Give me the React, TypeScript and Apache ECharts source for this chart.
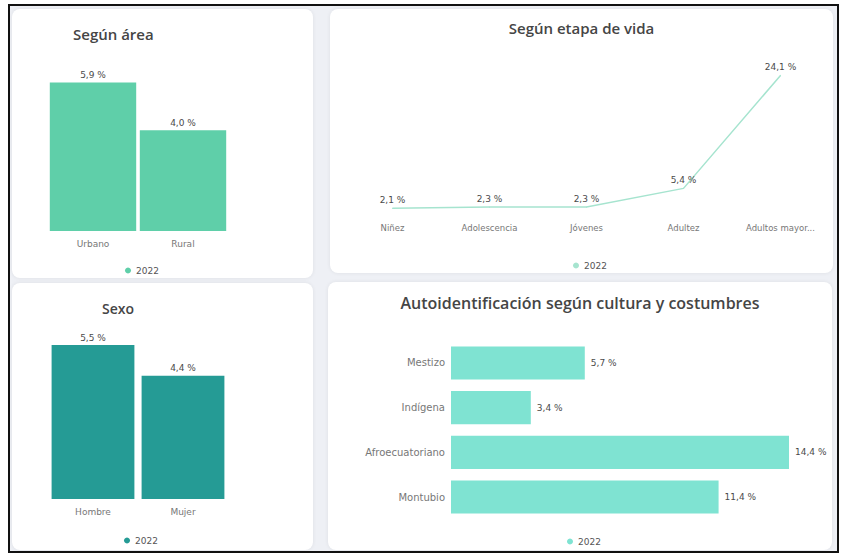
import React, { useEffect, useRef } from "react";
import * as echarts from "echarts";

const areaCats = ["Urbano", "Rural"];
const areaVals = [5.9, 4.0];

const sexoCats = ["Hombre", "Mujer"];
const sexoVals = [5.5, 4.4];

const etapaCats = ["Niñez", "Adolescencia", "Jóvenes", "Adultez", "Adultos mayores"];
const etapaVals = [2.1, 2.3, 2.3, 5.4, 24.1];

const culturaCats = ["Mestizo", "Indígena", "Afroecuatoriano", "Montubio"];
const culturaVals = [5.7, 3.4, 14.4, 11.4];

const seriesName = "2022";

const TFONT = "'Open Sans', 'Noto Sans', sans-serif";
const FONT = "'DejaVu Sans', 'Noto Sans', sans-serif";
const fmt = (v: number) => v.toFixed(1).replace(".", ",") + " %";

const legendCfg = (left: number, top: number, color: string) => ({
  left,
  top,
  icon: "circle",
  itemWidth: 6,
  itemHeight: 6,
  itemGap: 4,
  textStyle: { fontSize: 9, color: "#555", fontFamily: FONT },
  data: [{ name: seriesName, itemStyle: { color } }],
});

const titleCfg = (text: string, left: number | string, top: number, size: number, align: string = "left") => ({
  text,
  left,
  top,
  textAlign: align,
  textStyle: { fontSize: size, fontWeight: 600, color: "#454545", fontFamily: TFONT },
});

const valLabel = (position: string, distance: number, size = 9) => ({
  show: true,
  position,
  formatter: (p: any) => fmt(p.value),
  fontSize: size,
  color: "#4a4a4a",
  fontFamily: FONT,
  distance,
});

function optArea() {
  const color = "#5fcfa9";
  return {
    animation: false,
    title: titleCfg("Según área", 56, 12, 15),
    legend: legendCfg(108, 252, color),
    grid: { left: 36, top: 71, width: 180, height: 151 },
    xAxis: {
      type: "category",
      data: areaCats,
      axisLine: { show: false },
      axisTick: { show: false },
      axisLabel: { fontSize: 9, color: "#777", margin: 8, fontFamily: FONT },
    },
    yAxis: { type: "value", min: 0, max: 6, show: false },
    series: [
      {
        name: seriesName,
        type: "bar",
        data: areaVals,
        barCategoryGap: "4%",
        itemStyle: { color },
        label: valLabel("top", 3),
      },
    ],
  };
}

function optSexo() {
  const color = "#259b95";
  return {
    animation: false,
    title: titleCfg("Sexo", 101, 13, 14, "center"),
    legend: legendCfg(107, 248, color),
    grid: { left: 36, top: 48, width: 180, height: 168 },
    xAxis: {
      type: "category",
      data: sexoCats,
      axisLine: { show: false },
      axisTick: { show: false },
      axisLabel: { fontSize: 9, color: "#777", margin: 8, fontFamily: FONT },
    },
    yAxis: { type: "value", min: 0, max: 6, show: false },
    series: [
      {
        name: seriesName,
        type: "bar",
        data: sexoVals,
        barCategoryGap: "8%",
        itemStyle: { color },
        label: valLabel("top", 3),
      },
    ],
  };
}

function optEtapa() {
  const color = "#a6e4cf";
  return {
    animation: false,
    title: titleCfg("Según etapa de vida", "center", 6, 15),
    legend: legendCfg(238, 247, color),
    grid: { left: 14, top: 61, width: 485, height: 151 },
    xAxis: {
      type: "category",
      data: etapaCats,
      axisLine: { show: false },
      axisTick: { show: false },
      axisLabel: {
        interval: 0,
        fontSize: 8.5,
        color: "#777",
        margin: 2,
        fontFamily: FONT,
        width: 72,
        overflow: "truncate",
        ellipsis: "...",
      },
    },
    yAxis: { type: "value", min: 0, max: 25, show: false },
    series: [
      {
        name: seriesName,
        type: "line",
        data: etapaVals,
        showSymbol: true,
        symbol: "circle",
        symbolSize: 1,
        lineStyle: { color, width: 1.5 },
        itemStyle: { color },
        label: valLabel("top", 3),
      },
    ],
  };
}

function optCultura() {
  const color = "#7fe3d2";
  return {
    animation: false,
    title: titleCfg("Autoidentificación según cultura y costumbres", "center", 8, 16),
    legend: legendCfg(234, 250, color),
    grid: { left: 123, top: 58.6, width: 338, height: 178.8 },
    yAxis: {
      type: "category",
      data: culturaCats,
      inverse: true,
      axisLine: { show: false },
      axisTick: { show: false },
      axisLabel: { fontSize: 10, color: "#777", margin: 6, fontFamily: FONT },
    },
    xAxis: { type: "value", min: 0, max: "dataMax", show: false },
    series: [
      {
        name: seriesName,
        type: "bar",
        data: culturaVals,
        barCategoryGap: "26%",
        itemStyle: { color },
        label: valLabel("right", 6),
      },
    ],
  };
}

function Panel({ left, top, width, height, option }: { left: number; top: number; width: number; height: number; option: () => any }) {
  const ref = useRef<HTMLDivElement>(null);
  useEffect(() => {
    if (!ref.current) return;
    const chart = echarts.init(ref.current, undefined, { renderer: "svg" });
    chart.setOption(option());
    return () => chart.dispose();
  }, []);
  return (
    <div
      style={{
        position: "absolute",
        left,
        top,
        width,
        height,
        background: "#ffffff",
        borderRadius: 8,
        boxShadow: "0 0 4px rgba(0,0,0,0.07)",
        overflow: "hidden",
      }}
    >
      <div ref={ref} style={{ width, height }} />
    </div>
  );
}

export default function App() {
  return (
    <div style={{ position: "fixed", left: 0, top: 0, width: 843, height: 554, background: "#ffffff", overflow: "hidden" }}>
      <div
        style={{
          position: "absolute",
          left: 8,
          top: 4,
          width: 831,
          height: 549,
          border: "2px solid #111",
          boxSizing: "border-box",
          background: "#eef0f5",
        }}
      />
      <Panel left={12} top={9} width={301} height={269} option={optArea} />
      <Panel left={330} top={9} width={503} height={264} option={optEtapa} />
      <Panel left={12} top={283} width={301} height={267} option={optSexo} />
      <Panel left={328} top={282} width={504} height={268} option={optCultura} />
    </div>
  );
}
